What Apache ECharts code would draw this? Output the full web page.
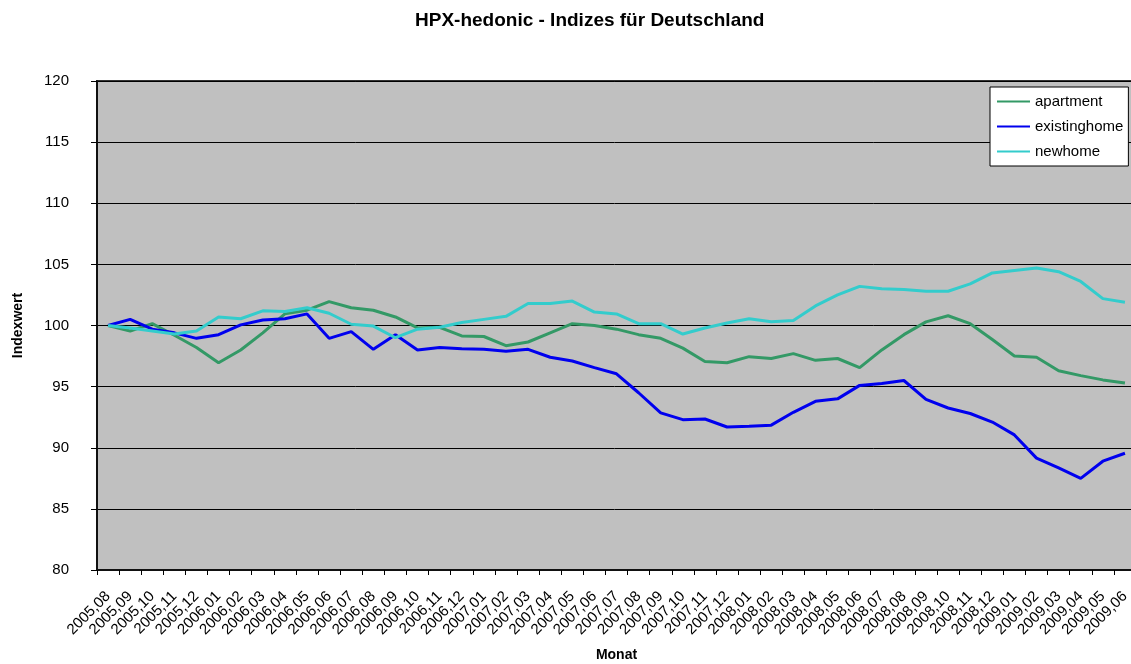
<!DOCTYPE html>
<html>
<head>
<meta charset="utf-8">
<script src="https://cdn.jsdelivr.net/npm/echarts@6/dist/echarts.min.js"></script>
<style>
html,body{margin:0;padding:0;background:#fff;}
#chart{width:1131px;height:664px;}
</style>
</head>
<body>
<div id="chart"></div>
<script>
var categories = ['2005,08','2005,09','2005,10','2005,11','2005,12',
  '2006,01','2006,02','2006,03','2006,04','2006,05','2006,06','2006,07','2006,08','2006,09','2006,10','2006,11','2006,12',
  '2007,01','2007,02','2007,03','2007,04','2007,05','2007,06','2007,07','2007,08','2007,09','2007,10','2007,11','2007,12',
  '2008,01','2008,02','2008,03','2008,04','2008,05','2008,06','2008,07','2008,08','2008,09','2008,10','2008,11','2008,12',
  '2009,01','2009,02','2009,03','2009,04','2009,05','2009,06'];

var apartment = [100, 99.55, 100.15, 99.2, 98.2, 96.95, 98.0, 99.4, 100.95, 101.25,
  101.95, 101.45, 101.25, 100.7, 99.8, 99.85, 99.15, 99.1, 98.35, 98.65,
  99.4, 100.15, 100.0, 99.7, 99.25, 98.95, 98.15, 97.05, 96.95, 97.45,
  97.3, 97.7, 97.15, 97.3, 96.55, 98.0, 99.25, 100.3, 100.8, 100.15,
  98.85, 97.5, 97.4, 96.3, 95.9, 95.55, 95.3];

var existinghome = [100, 100.5, 99.7, 99.4, 98.95, 99.25, 100.05, 100.45, 100.55, 100.95,
  98.95, 99.5, 98.05, 99.25, 98.0, 98.2, 98.1, 98.05, 97.9, 98.05,
  97.4, 97.1, 96.55, 96.05, 94.5, 92.85, 92.3, 92.35, 91.7, 91.75,
  91.85, 92.9, 93.8, 94.0, 95.1, 95.25, 95.5, 93.95, 93.25, 92.8,
  92.1, 91.05, 89.15, 88.35, 87.5, 88.9, 89.55];

var newhome = [100, 99.8, 99.55, 99.3, 99.55, 100.7, 100.55, 101.2, 101.15, 101.45,
  101.0, 100.1, 99.95, 99.0, 99.7, 99.85, 100.25, 100.5, 100.75, 101.8,
  101.8, 102.0, 101.1, 100.95, 100.15, 100.15, 99.3, 99.8, 100.2, 100.55,
  100.3, 100.4, 101.6, 102.5, 103.2, 103.0, 102.95, 102.8, 102.8, 103.4,
  104.3, 104.5, 104.7, 104.4, 103.6, 102.2, 101.9];

var seriesNames = ['apartment', 'existinghome', 'newhome'];
var seriesColors = ['#339966', '#0000EE', '#33CCCC'];

var FONT = '"Liberation Sans", Arial, sans-serif';
var chart = echarts.init(document.getElementById('chart'), null, {renderer: 'canvas'});

function mkSeries(name, data, color) {
  return {
    name: name, type: 'line', data: data, symbol: 'none', smooth: false,
    lineStyle: {color: color, width: 3}, itemStyle: {color: color},
    emphasis: {disabled: true}, animation: false
  };
}

chart.setOption({
  animation: false,
  backgroundColor: '#ffffff',
  textStyle: {fontFamily: FONT, color: '#000'},
  title: {
    text: 'HPX-hedonic - Indizes für Deutschland',
    left: 410, top: 6,
    textStyle: {fontFamily: FONT, fontSize: 19, fontWeight: 'bold', color: '#000'}
  },
  legend: {
    orient: 'vertical',
    left: 990, top: 87,
    padding: [7, 5, 7, 7],
    itemGap: 10,
    itemWidth: 33, itemHeight: 2,
    icon: 'rect',
    backgroundColor: '#ffffff',
    borderColor: '#000', borderWidth: 1,
    textStyle: {fontFamily: FONT, fontSize: 15, color: '#000', padding: [0, 0, 0, 0]},
    data: seriesNames
  },
  grid: {
    left: 97, top: 81, width: 1039, height: 489,
    show: true, backgroundColor: '#C0C0C0', borderColor: '#333', borderWidth: 2,
    containLabel: false, outerBoundsMode: 'none'
  },
  xAxis: {
    type: 'category', data: categories, boundaryGap: true,
    name: 'Monat', nameLocation: 'middle', nameGap: 78,
    nameTextStyle: {fontFamily: FONT, fontSize: 14, fontWeight: 'bold', color: '#000'},
    axisLine: {show: true, lineStyle: {color: '#111', width: 2}},
    axisTick: {show: true, alignWithLabel: false, length: 5, lineStyle: {color: '#000'}},
    axisLabel: {rotate: 45, interval: 0, margin: 24, fontFamily: FONT, fontSize: 15, color: '#000'},
    splitLine: {show: false}
  },
  yAxis: {
    type: 'value', min: 80, max: 120, interval: 5,
    name: 'Indexwert', nameLocation: 'middle', nameGap: 72, nameRotate: 90,
    nameTextStyle: {fontFamily: FONT, fontSize: 14, fontWeight: 'bold', color: '#000'},
    axisLine: {show: true, lineStyle: {color: '#111', width: 2}},
    axisTick: {show: true, length: 6, lineStyle: {color: '#000'}},
    axisLabel: {margin: 28, fontFamily: FONT, fontSize: 15, color: '#000'},
    splitLine: {show: true, lineStyle: {color: '#000', width: 1}}
  },
  series: [
    mkSeries(seriesNames[0], apartment, seriesColors[0]),
    mkSeries(seriesNames[1], existinghome, seriesColors[1]),
    mkSeries(seriesNames[2], newhome, seriesColors[2])
  ]
});
</script>
</body>
</html>
